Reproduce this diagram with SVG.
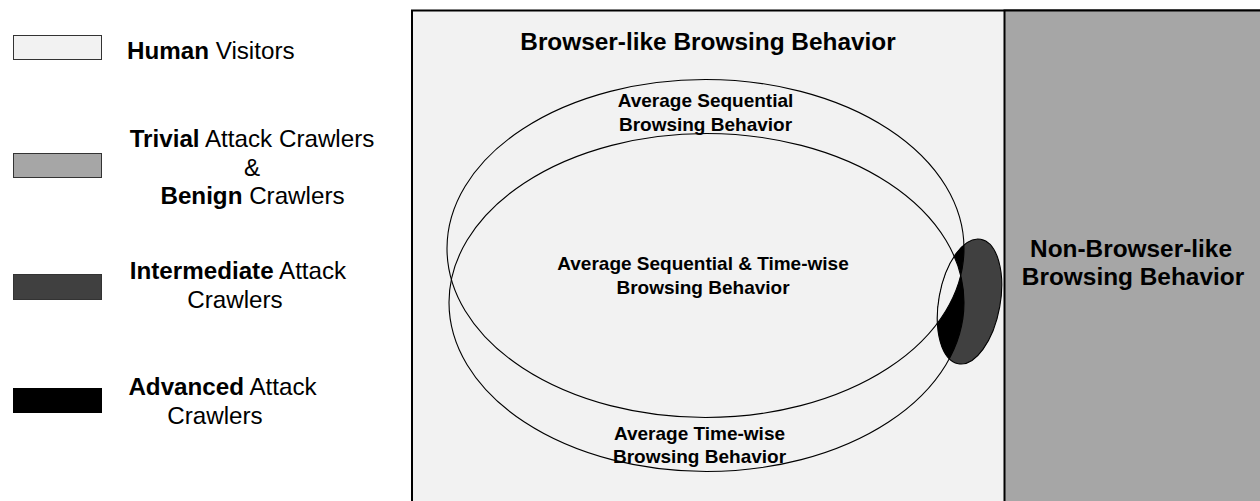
<svg xmlns="http://www.w3.org/2000/svg" width="1260" height="501" viewBox="0 0 1260 501">
  <style>
    text { font-family: "Liberation Sans", Arial, sans-serif; fill: #000; }
    .leg { font-size: 24.2px; }
    .b { font-weight: bold; }
    .head { font-size: 24.4px; font-weight: bold; text-anchor: middle; }
    .lbl { font-size: 19px; font-weight: bold; text-anchor: middle; }
    .key { stroke: #333; stroke-width: 1; }
    .ring { fill: none; stroke: #000; stroke-width: 1.1; }
  </style>
  <defs>
    <clipPath id="blobClip">
      <ellipse cx="0" cy="0" rx="30.7" ry="63.3" transform="translate(969.5 301.5) rotate(10.2)"/>
    </clipPath>
    <clipPath id="timeClip">
      <ellipse cx="706.5" cy="302.5" rx="257.5" ry="169"/>
    </clipPath>
  </defs>

  <rect width="1260" height="501" fill="#ffffff"/>

  <!-- legend -->
  <g id="legend-human">
    <rect class="key" x="13.5" y="35.5" width="88" height="24" fill="#f2f2f2"/>
    <text class="leg" x="127" y="59"><tspan class="b">Human</tspan> Visitors</text>
  </g>
  <g id="legend-trivial">
    <rect class="key" x="13.5" y="153.5" width="88" height="24" fill="#a6a6a6"/>
    <text class="leg" x="252" y="147" text-anchor="middle"><tspan class="b">Trivial</tspan> Attack Crawlers</text>
    <text class="leg" x="252" y="176" text-anchor="middle">&amp;</text>
    <text class="leg" x="252.5" y="204" text-anchor="middle"><tspan class="b">Benign</tspan> Crawlers</text>
  </g>
  <g id="legend-intermediate">
    <rect class="key" x="13.5" y="274.5" width="88" height="25" fill="#404040"/>
    <text class="leg" x="238" y="279" text-anchor="middle"><tspan class="b">Intermediate</tspan> Attack</text>
    <text class="leg" x="235" y="308" text-anchor="middle">Crawlers</text>
  </g>
  <g id="legend-advanced">
    <rect x="13" y="388" width="89" height="25" fill="#000"/>
    <text class="leg" x="222.5" y="395" text-anchor="middle"><tspan class="b">Advanced</tspan> Attack</text>
    <text class="leg" x="215" y="424" text-anchor="middle">Crawlers</text>
  </g>

  <!-- behaviour space: browser-like area and non-browser-like area -->
  <g id="browser-like">
    <rect x="412" y="10.5" width="900" height="600" fill="#f2f2f2" stroke="#000" stroke-width="2"/>
    <text class="head" x="708" y="50">Browser-like Browsing Behavior</text>
  </g>
  <g id="non-browser-like">
    <rect x="1004.5" y="10.5" width="300" height="600" fill="#a6a6a6" stroke="#000" stroke-width="2"/>
    <text class="head" x="1131" y="257">Non-Browser-like</text>
    <text class="head" x="1133" y="285">Browsing Behavior</text>
  </g>

  <!-- crawler blob: dark outside both averages, black inside exactly one, light inside both -->
  <g id="crawler-blob">
    <g clip-path="url(#blobClip)">
      <rect x="930" y="230" width="80" height="140" fill="#404040"/>
      <ellipse cx="705.5" cy="248.5" rx="258.5" ry="169" fill="#000"/>
      <ellipse cx="706.5" cy="302.5" rx="257.5" ry="169" fill="#000"/>
      <g clip-path="url(#timeClip)">
        <ellipse cx="705.5" cy="248.5" rx="258.5" ry="169" fill="#f2f2f2"/>
      </g>
    </g>
  </g>

  <g id="sequential">
    <ellipse class="ring" cx="705.5" cy="248.5" rx="258.5" ry="169"/>
    <text class="lbl" x="705.5" y="107">Average Sequential</text>
    <text class="lbl" x="705.5" y="130.5">Browsing Behavior</text>
  </g>
  <g id="time-wise">
    <ellipse class="ring" cx="706.5" cy="302.5" rx="257.5" ry="169"/>
    <text class="lbl" x="699.5" y="440">Average Time-wise</text>
    <text class="lbl" x="699.5" y="463">Browsing Behavior</text>
  </g>
  <g id="overlap">
    <text class="lbl" x="703" y="270">Average Sequential &amp; Time-wise</text>
    <text class="lbl" x="703" y="293.5">Browsing Behavior</text>
  </g>

  <g id="crawler-blob-outline">
    <ellipse class="ring" cx="0" cy="0" rx="30.7" ry="63.3" transform="translate(969.5 301.5) rotate(10.2)"/>
  </g>

  <g id="connectors"/>
</svg>
